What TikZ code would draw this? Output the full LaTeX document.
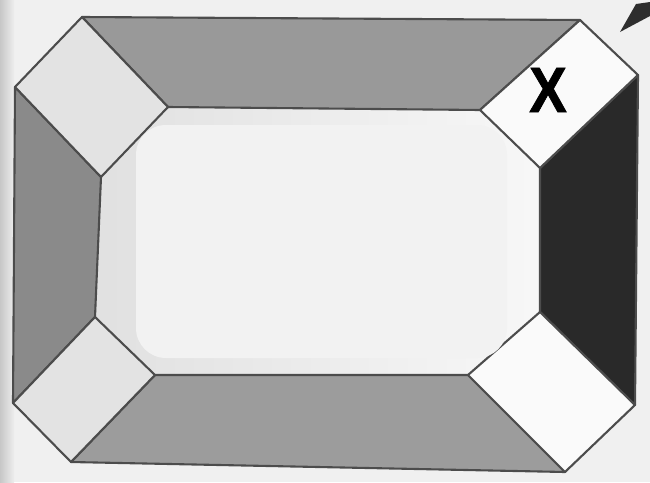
\documentclass[tikz,border=0pt]{standalone}
\usepackage{fontspec}
\newfontfamily\xfont[BoldFeatures={FakeBold=1.2}]{Liberation Sans}
\begin{document}
\begin{tikzpicture}[x=1pt,y=-1pt,
  edge/.style={draw=black!70,line width=2.1pt,line join=round},
  sq/.style={edge,fill=#1},
  side/.style={edge,fill=#1}]
\useasboundingbox (0,0) rectangle (650,482);
% background
\fill[white!94!black] (0,0) rectangle (650,482);
\shade[left color=black!22,right color=white!93!black] (0,0) rectangle (14,482);
% coordinates
\coordinate (tlT) at (82,17);  \coordinate (tlR) at (168,107);
\coordinate (tlB) at (101,177); \coordinate (tlL) at (15,87);
\coordinate (trT) at (580,20); \coordinate (trR) at (638,75);
\coordinate (trB) at (540,168); \coordinate (trL) at (480,110);
\coordinate (brT) at (540,312); \coordinate (brR) at (635,405);
\coordinate (brB) at (565,472); \coordinate (brL) at (468,375);
\coordinate (blT) at (95,317); \coordinate (blR) at (155,375);
\coordinate (blB) at (71,462); \coordinate (blL) at (13,403);
% inner frame area
\shade[left color=black!12,right color=white!97!black]
  (tlR) -- (tlB) -- (blT) -- (blR) -- (brL) -- (brT) -- (trB) -- (trL) -- cycle;
% sides
\path[side=black!40] (tlT) -- (trT) -- (trL) -- (tlR) -- cycle;
\path[side=black!46] (tlL) -- (tlB) -- (blT) -- (blL) -- cycle;
\path[side=black!39] (blR) -- (brL) -- (brB) -- (blB) -- cycle;
\path[side=black!84] (trR) -- (brR) -- (brT) -- (trB) -- cycle;
% corner squares
\path[sq=black!11] (tlT) -- (tlR) -- (tlB) -- (tlL) -- cycle;
\path[sq=black!2] (trT) -- (trR) -- (trB) -- (trL) -- cycle;
\path[sq=black!2] (brT) -- (brR) -- (brB) -- (brL) -- cycle;
\path[sq=black!11] (blT) -- (blR) -- (blB) -- (blL) -- cycle;
% covering panel
\fill[white!95!black,rounded corners=30pt] (136,125) rectangle (507,358);
% pointer at top right
\coordinate (p1) at (620,32); \coordinate (p2) at (636,4);
\coordinate (p3) at (650,2); \coordinate (p4) at (650,16);
\fill[black!82] (p1) -- (p2) -- (p3) -- (p4) -- cycle;
% label
\node[font=\xfont\bfseries\fontsize{64}{64}\selectfont,xscale=0.88,inner sep=0pt] (xl) at (548,90) {X};
\end{tikzpicture}
\end{document}
